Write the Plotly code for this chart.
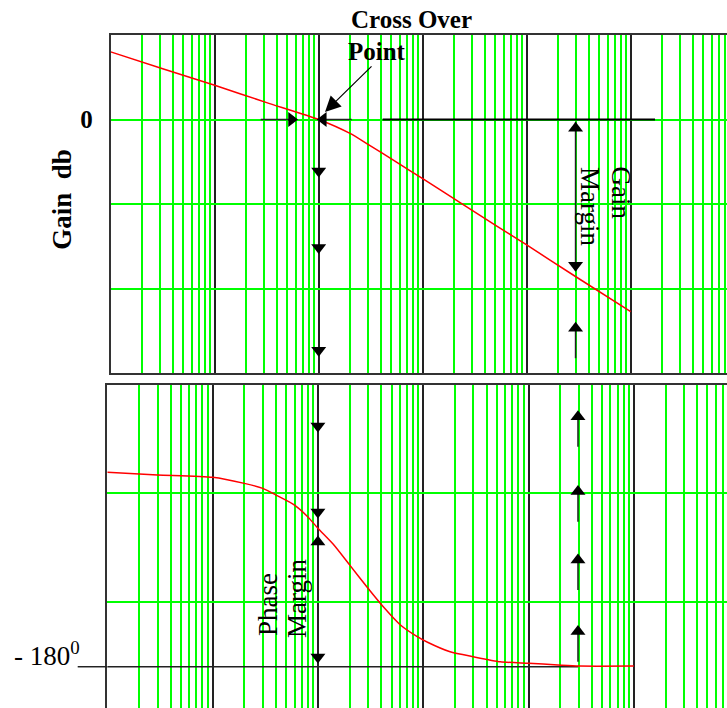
import numpy as np
import plotly.graph_objects as go

# ---------------- data ----------------
# Gain curve (dB) vs frequency (log axis, decades 1 .. 1e5)
gain_freq = [1, 3.16, 10, 31.6, 100, 200, 290, 560, 1000, 2650, 10000, 29200, 100000]
gain_db = [16.0, 12.0, 8.1, 4.0, 0.0, -3.3, -5.7, -10.1, -14.0, -20.7, -29.7, -37.1, -45.5]

# Phase curve (degrees) vs frequency
phase_freq = [1, 3, 10, 20, 30, 40, 60, 80, 100, 140, 200, 290, 420, 600, 870,
              1100, 1800, 3000, 5400, 10000, 19000, 30000, 100000]
phase_deg = [-90.3, -91.5, -92.6, -95.4, -97.7, -100.8, -105.4, -110.8, -116.1, -123.5,
             -133.0, -143.0, -152.5, -160.5, -166.0, -168.7, -173.1, -175.4, -177.7,
             -178.4, -179.2, -179.7, -179.7]

decades = [1, 10, 100, 1000, 10000, 100000]
minor_freqs = [m * d for d in decades + [1000000] for m in range(2, 10)]

crossover_freq = 100          # gain cross-over frequency
phase_cross_freq = 29500      # frequency where phase reaches -180

# top panel marks
lead_in_freq = [27.7, 54.8]        # arrow coming from the left to the cross-over
lead_out_freq = [207.6, 110.7]     # arrow coming from the right to the cross-over
zero_line_freq = [412, 171400]     # long 0 dB reference line
gain_down_db = [-12.2, -30.3, -54.6]
gm_line_db = [-0.6, -35.8]
gm_heads_db = [-2.1, -34.5]
gm_low_line_db = [-56.5, -49.4]
point_tip = (115, 1.8)

# bottom panel marks
pm_down_deg = [-68.9, -108.6, -175.5]
pm_up_deg = [-122.4]
pc_tail_deg = [-177.7, -144.6, -113.1, -78.5]
pc_head_deg = [-163.8, -130.8, -99.2, -64.6]
minus180 = -180

GREEN = "#00ff00"
BLACK = "#222222"
RED = "#ff0000"
SERIF = "Liberation Serif"

W, H = 727, 708

def px(x, y):
    return x / W, 1 - y / H

fig = go.Figure()

# ---------- top panel ----------
lx, ly = [], []
def seg(xs, ys):
    lx.extend(list(xs) + [None]); ly.extend(list(ys) + [None])

seg(lead_in_freq, [0, 0])
seg(lead_out_freq, [0, 0])
seg([phase_cross_freq] * 2, gm_line_db)
seg([phase_cross_freq] * 2, gm_low_line_db)
fig.add_trace(go.Scatter(x=lx, y=ly, mode="lines", line=dict(color=BLACK, width=1.5),
                         xaxis="x", yaxis="y", hoverinfo="skip", showlegend=False))
fig.add_trace(go.Scatter(x=zero_line_freq, y=[0, 0], mode="lines",
                         line=dict(color="black", width=2),
                         xaxis="x", yaxis="y", hoverinfo="skip", showlegend=False))
fig.add_trace(go.Scatter(x=gain_freq, y=gain_db, mode="lines",
                         line=dict(color=RED, width=1.5, shape="spline", smoothing=0.6),
                         xaxis="x", yaxis="y", showlegend=False))
mx = [lead_in_freq[1], lead_out_freq[1]] + [crossover_freq] * 3 + [phase_cross_freq] * 3
my = [0, 0] + gain_down_db + gm_heads_db + [gm_low_line_db[1]]
ms = ["triangle-right", "triangle-left"] + ["triangle-down"] * 3 + ["triangle-up", "triangle-down", "triangle-up"]
fig.add_trace(go.Scatter(x=mx, y=my, mode="markers",
                         marker=dict(symbol=ms, size=13, color="black", line=dict(width=0)),
                         xaxis="x", yaxis="y", hoverinfo="skip", showlegend=False))

# ---------- bottom panel ----------
bx, by = [], []
for t, h in zip(pc_tail_deg, pc_head_deg):
    bx.extend([phase_cross_freq, phase_cross_freq, None]); by.extend([t, h, None])
bx.extend([decades[0], phase_cross_freq, None]); by.extend([minus180, minus180, None])
fig.add_trace(go.Scatter(x=bx, y=by, mode="lines", line=dict(color=BLACK, width=1.5),
                         xaxis="x2", yaxis="y2", hoverinfo="skip", showlegend=False))
fig.add_trace(go.Scatter(x=phase_freq, y=phase_deg, mode="lines",
                         line=dict(color=RED, width=1.5, shape="spline", smoothing=0.6),
                         xaxis="x2", yaxis="y2", showlegend=False))
bmx = [crossover_freq] * 4 + [phase_cross_freq] * 4
bmy = pm_down_deg + pm_up_deg + pc_head_deg
bms = ["triangle-down"] * 3 + ["triangle-up"] + ["triangle-up"] * 4
fig.add_trace(go.Scatter(x=bmx, y=bmy, mode="markers",
                         marker=dict(symbol=bms, size=13, color="black", line=dict(width=0)),
                         xaxis="x2", yaxis="y2", hoverinfo="skip", showlegend=False))

axis_common = dict(type="log", showgrid=True, gridcolor=BLACK, gridwidth=2,
                   tickmode="array", tickvals=decades, showticklabels=False, ticks="",
                   minor=dict(tickmode="array", tickvals=minor_freqs, showgrid=True,
                              gridcolor=GREEN, gridwidth=1.5, ticks=""),
                   showline=True, linecolor="#333333", linewidth=2, zeroline=False,
                   fixedrange=True)

top_x0, top_y1 = px(110.7, 35)
_, top_y0 = px(0, 373)
bot_x0, bot_y1 = px(107.3, 385)

fig.update_layout(
    width=W, height=H,
    margin=dict(l=0, r=0, t=0, b=0),
    paper_bgcolor="white", plot_bgcolor="white",
    xaxis=dict(axis_common, domain=[top_x0, 1], range=[0, 5.926], mirror=True, anchor="y"),
    yaxis=dict(domain=[top_y0, top_y1], range=[-60, 20], tickmode="array",
               tickvals=[0, -20, -40], ticktext=["0", "", ""], showgrid=True,
               gridcolor=GREEN, gridwidth=2, zeroline=False, showline=True,
               linecolor="#333333", linewidth=2, ticks="", ticklabelstandoff=11,
               tickfont=dict(family=SERIF, size=25, color="black", weight="bold"),
               anchor="x"),
    xaxis2=dict(axis_common, domain=[bot_x0, 1], range=[0, 5.885], side="top", anchor="y2"),
    yaxis2=dict(domain=[0, bot_y1], range=[-199.05, -50], tickmode="array",
                tickvals=[-100, -150], showticklabels=False, showgrid=True,
                gridcolor=GREEN, gridwidth=2, zeroline=False, showline=True,
                linecolor="#333333", linewidth=2, ticks="", anchor="x2"),
)

# -180 line stub extending into the left margin
fig.add_shape(type="line", xref="paper", yref="y2", x0=px(77.7, 0)[0], x1=bot_x0,
              y0=minus180, y1=minus180, line=dict(color=BLACK, width=1.5))

def label(text, x, y, size, bold=False, angle=0):
    X, Y = px(x, y)
    f = dict(family=SERIF, size=size, color="black")
    if bold:
        f["weight"] = "bold"
    return dict(text=text, xref="paper", yref="paper", x=X, y=Y, textangle=angle,
                showarrow=False, xanchor="center", yanchor="middle", font=f)

ann = [
    label("Cross Over", 411.5, 20, 25, bold=True),
    label("Point", 376.5, 51, 25, bold=True),
    label("Gain\u00a0 db", 61.7, 199, 27, bold=True, angle=-90),
    label("Gain", 620, 192.5, 27, angle=90),
    label("Margin", 590, 206, 27, angle=90),
    label("Phase", 267.5, 604.5, 27, angle=-90),
    label("Margin", 297, 599, 27, angle=-90),
]
ann.append(dict(text="", xref="x", yref="y", x=np.log10(point_tip[0]), y=point_tip[1],
                ax=48, ay=-47, showarrow=True, arrowhead=2, arrowsize=2.6, arrowwidth=1.2,
                arrowcolor="black"))
ann.append(dict(text="- 180<sup>0</sup>", xref="paper", yref="y2", x=px(82, 0)[0], y=minus180,
                showarrow=False, xanchor="right", yanchor="bottom", yshift=-6,
                font=dict(family=SERIF, size=27, color="black")))
fig.update_layout(annotations=ann)

fig.write_html("out.html", config={"displayModeBar": False},
               post_script="document.body.style.margin='0';document.body.style.overflow='hidden';")
